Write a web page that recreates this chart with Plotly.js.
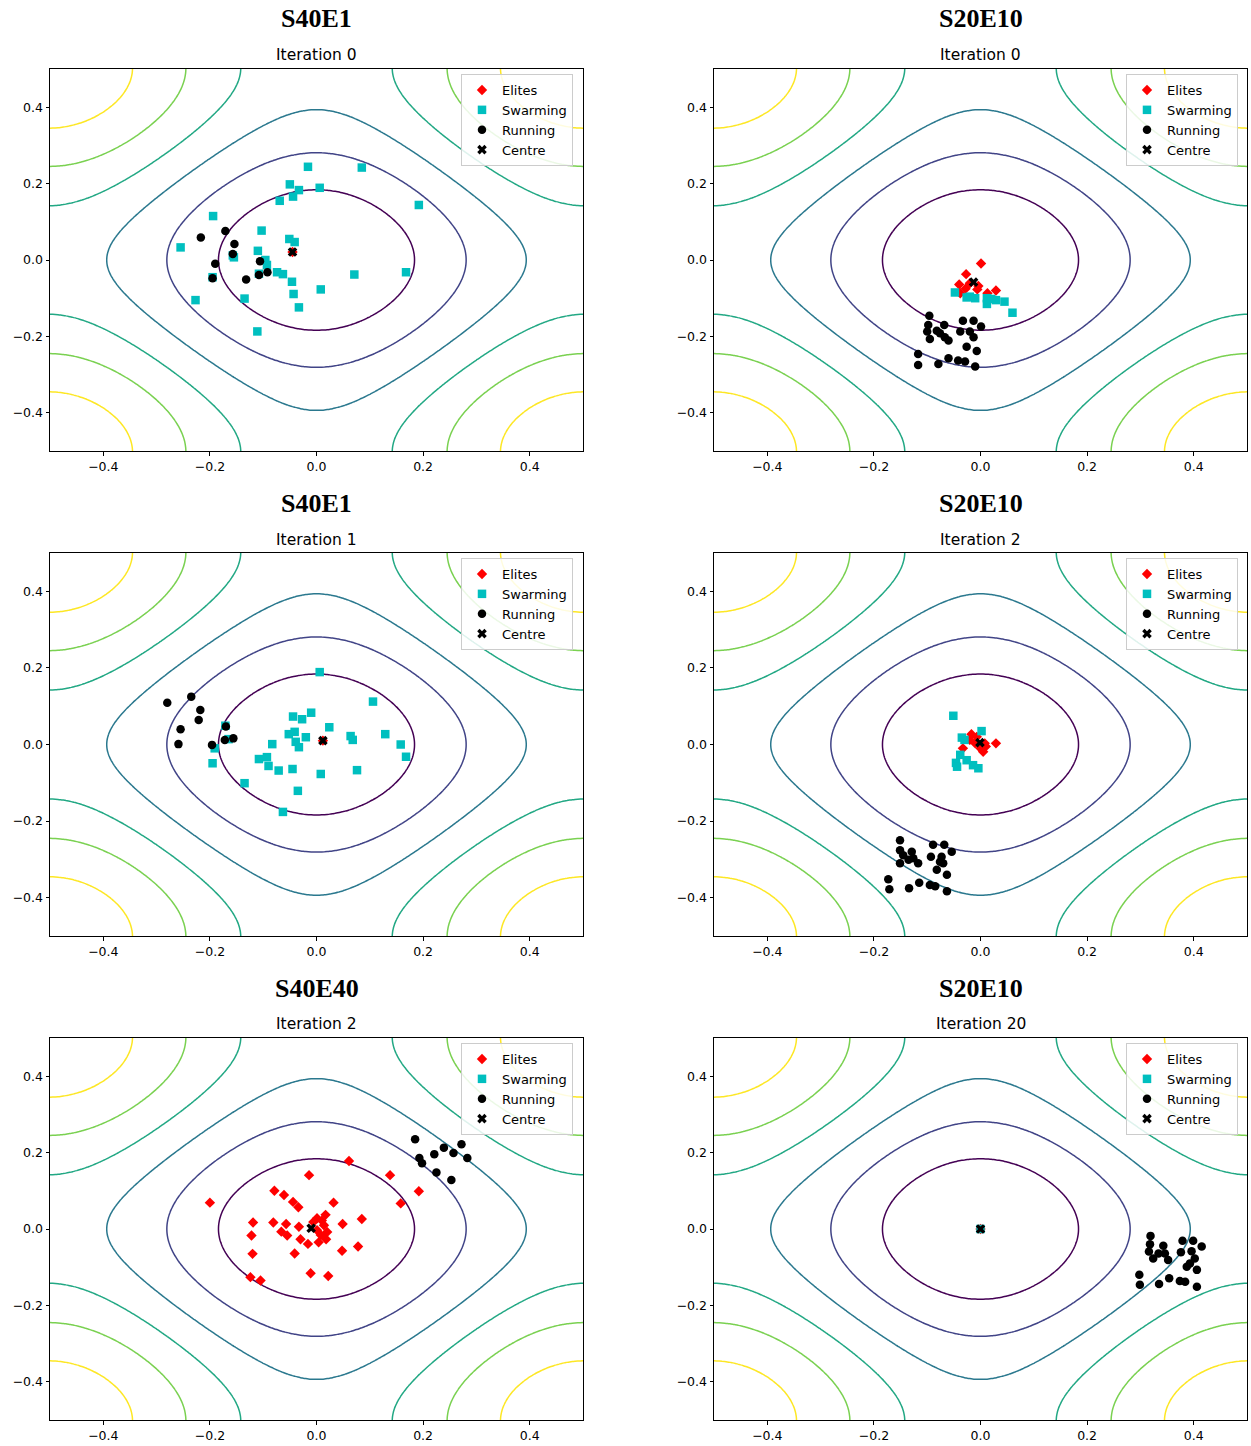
<!DOCTYPE html>
<html><head><meta charset="utf-8">
<script src="https://cdn.plot.ly/plotly-3.0.1.min.js"></script>
<style>html,body{margin:0;padding:0;background:#fff}#chart{width:1251px;height:1446px}</style>
</head><body><div id="chart"></div><script>
// ---- panel texts ----
const panelTitles = ['S40E1', 'S20E10', 'S40E1', 'S20E10', 'S40E40', 'S20E10'];
const panelIterations = ['Iteration 0', 'Iteration 0', 'Iteration 1', 'Iteration 2', 'Iteration 2', 'Iteration 20'];
const seriesNames = ['Elites', 'Swarming', 'Running', 'Centre'];
const tickValues = [-0.4, -0.2, 0.0, 0.2, 0.4];
const tickLabels = ['\u22120.4', '\u22120.2', '0.0', '0.2', '0.4'];
const contourLevels = [6, 12, 18, 24, 30, 36];

// ---- panel 1: S40E1, iteration 0 ----
const p1EliteX = [-0.045];
const p1EliteY = [0.021];
const p1SwarmX = [-0.016, 0.085, -0.050, -0.033, 0.006, -0.044, -0.069, 0.192, -0.194, -0.103, -0.051, -0.041, -0.255, -0.110, -0.155, -0.096, -0.093, -0.074, -0.063, -0.046, 0.071, 0.168, 0.008, -0.043, -0.033, -0.135, -0.227, -0.111, -0.195, -0.157, -0.108];
const p1SwarmY = [0.244, 0.242, 0.198, 0.183, 0.189, 0.166, 0.155, 0.144, 0.115, 0.077, 0.055, 0.047, 0.033, 0.024, 0.007, 0.000, -0.013, -0.032, -0.037, -0.057, -0.038, -0.032, -0.077, -0.089, -0.124, -0.101, -0.105, -0.187, -0.045, 0.012, -0.036];
const p1RunX = [-0.217, -0.171, -0.154, -0.157, -0.190, -0.195, -0.106, -0.092, -0.108, -0.132];
const p1RunY = [0.059, 0.076, 0.042, 0.016, -0.010, -0.048, -0.003, -0.032, -0.039, -0.051];
const p1CentreX = [-0.045];
const p1CentreY = [0.021];

// ---- panel 2: S20E10, iteration 0 ----
const p2EliteX = [0.001, -0.027, -0.040, -0.020, -0.006, -0.038, 0.013, 0.029, -0.028, -0.004];
const p2EliteY = [-0.009, -0.037, -0.064, -0.061, -0.077, -0.087, -0.087, -0.080, -0.075, -0.068];
const p2SwarmX = [-0.048, -0.026, -0.010, 0.012, 0.029, 0.012, 0.045, 0.060, -0.020, 0.020];
const p2SwarmY = [-0.085, -0.098, -0.100, -0.100, -0.105, -0.115, -0.109, -0.138, -0.096, -0.102];
const p2RunX = [-0.096, -0.068, -0.033, -0.013, 0.001, -0.098, -0.100, -0.082, -0.038, -0.020, -0.095, -0.067, -0.060, -0.013, -0.026, -0.007, -0.117, -0.117, -0.079, -0.060, -0.042, -0.029, -0.010, -0.076];
const p2RunY = [-0.146, -0.170, -0.159, -0.159, -0.174, -0.170, -0.187, -0.185, -0.187, -0.187, -0.207, -0.202, -0.211, -0.202, -0.227, -0.238, -0.246, -0.275, -0.272, -0.257, -0.263, -0.266, -0.279, -0.192];
const p2CentreX = [-0.013];
const p2CentreY = [-0.058];

// ---- panel 3: S40E1, iteration 1 ----
const p3EliteX = [0.012];
const p3EliteY = [0.010];
const p3SwarmX = [0.006, 0.106, -0.044, -0.027, -0.010, 0.024, -0.052, -0.041, -0.020, -0.039, -0.033, 0.064, 0.068, 0.129, 0.158, 0.168, -0.083, -0.108, -0.093, -0.090, -0.071, -0.045, 0.008, 0.076, -0.195, -0.135, -0.035, -0.063, -0.171, -0.191, -0.165];
const p3SwarmY = [0.189, 0.112, 0.073, 0.066, 0.083, 0.045, 0.027, 0.033, 0.019, 0.007, -0.007, 0.022, 0.012, 0.027, 0.000, -0.032, 0.001, -0.038, -0.033, -0.056, -0.068, -0.064, -0.077, -0.067, -0.049, -0.101, -0.121, -0.176, 0.049, -0.010, 0.014];
const p3RunX = [-0.280, -0.235, -0.218, -0.221, -0.255, -0.259, -0.196, -0.170, -0.172, -0.156];
const p3RunY = [0.109, 0.125, 0.090, 0.064, 0.040, 0.001, -0.001, 0.047, 0.012, 0.016];
const p3CentreX = [0.012];
const p3CentreY = [0.010];

// ---- panel 4: S20E10, iteration 2 ----
const p4EliteX = [-0.017, -0.007, 0.029, 0.005, -0.033, 0.008, -0.010, 0.000, -0.020, 0.010];
const p4EliteY = [0.027, 0.020, 0.003, -0.019, -0.010, 0.003, 0.003, -0.010, 0.012, -0.005];
const p4SwarmX = [-0.051, 0.002, -0.035, -0.030, -0.038, -0.046, -0.044, -0.026, -0.014, -0.004];
const p4SwarmY = [0.075, 0.035, 0.018, 0.012, -0.027, -0.048, -0.058, -0.041, -0.054, -0.062];
const p4RunX = [-0.151, -0.089, -0.068, -0.054, -0.151, -0.145, -0.129, -0.126, -0.117, -0.151, -0.093, -0.073, -0.070, -0.082, -0.063, -0.173, -0.171, -0.134, -0.115, -0.095, -0.085, -0.063, -0.135, -0.076];
const p4RunY = [-0.250, -0.262, -0.262, -0.280, -0.276, -0.289, -0.280, -0.297, -0.310, -0.310, -0.293, -0.293, -0.310, -0.327, -0.340, -0.352, -0.378, -0.375, -0.361, -0.367, -0.370, -0.383, -0.301, -0.306];
const p4CentreX = [-0.001];
const p4CentreY = [0.005];

// ---- panel 5: S40E40, iteration 2 (no swarming agents) ----
const p5EliteX = [0.061, -0.014, 0.138, 0.192, 0.158, -0.200, -0.079, -0.061, -0.044, -0.034, 0.032, -0.119, -0.081, -0.057, -0.033, -0.066, -0.055, -0.122, 0.001, 0.017, 0.014, 0.001, 0.008, 0.018, 0.004, -0.030, -0.016, 0.049, 0.085, 0.078, 0.048, -0.041, -0.120, -0.011, 0.022, -0.124, -0.105, 0.010, -0.006, 0.020];
const p5EliteY = [0.178, 0.141, 0.141, 0.099, 0.067, 0.069, 0.100, 0.089, 0.071, 0.057, 0.069, 0.017, 0.017, 0.013, 0.006, -0.007, -0.017, -0.017, 0.028, 0.037, 0.010, -0.003, -0.016, -0.027, -0.035, -0.027, -0.039, 0.013, 0.026, -0.046, -0.057, -0.064, -0.065, -0.116, -0.123, -0.126, -0.135, 0.022, 0.018, -0.008];
const p5SwarmX = [null];
const p5SwarmY = [null];
const p5RunX = [0.185, 0.239, 0.272, 0.257, 0.283, 0.221, 0.193, 0.198, 0.225, 0.253];
const p5RunY = [0.235, 0.213, 0.222, 0.199, 0.186, 0.196, 0.186, 0.172, 0.148, 0.128];
const p5CentreX = [-0.010];
const p5CentreY = [0.002];

// ---- panel 6: S20E10, iteration 20 ----
const p6EliteX = [0.000];
const p6EliteY = [0.000];
const p6SwarmX = [0.000];
const p6SwarmY = [0.000];
const p6RunX = [0.319, 0.318, 0.316, 0.324, 0.343, 0.346, 0.352, 0.334, 0.379, 0.399, 0.415, 0.376, 0.396, 0.402, 0.387, 0.406, 0.393, 0.298, 0.299, 0.335, 0.354, 0.374, 0.384, 0.406];
const p6RunY = [-0.018, -0.040, -0.059, -0.077, -0.044, -0.064, -0.081, -0.064, -0.031, -0.031, -0.046, -0.061, -0.058, -0.077, -0.099, -0.107, -0.090, -0.120, -0.146, -0.144, -0.129, -0.136, -0.138, -0.151];
const p6CentreX = [0.000];
const p6CentreY = [0.000];

const panels = [
  [p1EliteX, p1EliteY, p1SwarmX, p1SwarmY, p1RunX, p1RunY, p1CentreX, p1CentreY],
  [p2EliteX, p2EliteY, p2SwarmX, p2SwarmY, p2RunX, p2RunY, p2CentreX, p2CentreY],
  [p3EliteX, p3EliteY, p3SwarmX, p3SwarmY, p3RunX, p3RunY, p3CentreX, p3CentreY],
  [p4EliteX, p4EliteY, p4SwarmX, p4SwarmY, p4RunX, p4RunY, p4CentreX, p4CentreY],
  [p5EliteX, p5EliteY, p5SwarmX, p5SwarmY, p5RunX, p5RunY, p5CentreX, p5CentreY],
  [p6EliteX, p6EliteY, p6SwarmX, p6SwarmY, p6RunX, p6RunY, p6CentreX, p6CentreY]
];

// ---- objective surface (Rastrigin) drawn as background contours ----
function rastrigin(x, y) {
  return 20 + x * x + y * y - 10 * (Math.cos(2 * Math.PI * x) + Math.cos(2 * Math.PI * y));
}
const gridAxis = [];
for (let i = 0; i <= 200; i++) gridAxis.push(-0.5 + i * 0.005);
const gridZ = gridAxis.map(yv => gridAxis.map(xv => rastrigin(xv, yv)));

// ---- layout geometry (pixels) ----
const W = 1251, H = 1446;
const colLeft = [[50, 583], [714, 1247]];
const rowTop = [[69, 451], [553, 936], [1038, 1420]];
const titleY = [19, 503, 988];
const iterY = [55, 540, 1024];
const legendPos = [[461, 74], [1126, 74], [461, 558], [1126, 558], [461, 1043], [1126, 1043]];

const markerStyles = [
  {color: '#ff0000', symbol: 'diamond', size: 8},
  {color: '#00bfbf', symbol: 'square', size: 8.5},
  {color: '#000000', symbol: 'circle', size: 8.5},
  {color: '#000000', symbol: 'x', size: 8.5}
];
const viridis6 = [[0, '#440154'], [0.2, '#414487'], [0.4, '#2a788e'], [0.6, '#22a884'], [0.8, '#7ad151'], [1, '#fde725']];

const traces = [];
const layout = {
  width: W, height: H,
  margin: {l: 0, r: 0, t: 0, b: 0},
  paper_bgcolor: '#ffffff', plot_bgcolor: '#ffffff',
  showlegend: true,
  annotations: [],
  font: {family: 'DejaVu Sans', size: 13, color: '#000'}
};

for (let p = 0; p < 6; p++) {
  const col = p % 2, row = Math.floor(p / 2);
  const sfx = p === 0 ? '' : String(p + 1);
  const xa = 'x' + sfx, ya = 'y' + sfx;
  const lg = 'legend' + sfx;
  const axBase = {
    range: [-0.5, 0.5], tickmode: 'array', tickvals: tickValues, ticktext: tickLabels,
    ticks: 'outside', ticklen: 3.5, tickwidth: 1, tickcolor: '#000',
    showline: true, linecolor: '#000', linewidth: 1, mirror: true,
    showgrid: false, zeroline: false, fixedrange: true,
    tickfont: {family: 'DejaVu Sans', size: 12.5, color: '#000'}
  };
  layout['xaxis' + sfx] = Object.assign({}, axBase, {
    domain: [colLeft[col][0] / W, colLeft[col][1] / W], anchor: ya
  });
  layout['yaxis' + sfx] = Object.assign({}, axBase, {
    domain: [1 - rowTop[row][1] / H, 1 - rowTop[row][0] / H], anchor: xa
  });
  traces.push({
    type: 'contour', x: gridAxis, y: gridAxis, z: gridZ,
    xaxis: xa, yaxis: ya, showlegend: false, showscale: false, hoverinfo: 'skip',
    autocontour: false,
    contours: {start: contourLevels[0], end: contourLevels[contourLevels.length - 1], size: contourLevels[1] - contourLevels[0], coloring: 'lines'},
    colorscale: viridis6, zauto: false, zmin: contourLevels[0], zmax: contourLevels[contourLevels.length - 1],
    line: {width: 1.5, smoothing: 1}
  });
  const d = panels[p];
  for (let s = 0; s < 4; s++) {
    const m = markerStyles[s];
    traces.push({
      type: 'scatter', mode: 'markers', name: seriesNames[s],
      x: d[2 * s], y: d[2 * s + 1], xaxis: xa, yaxis: ya,
      legend: lg, legendrank: s + 1,
      marker: {color: m.color, symbol: m.symbol, size: m.size, line: {width: 0}},
      cliponaxis: true, hoverinfo: 'x+y'
    });
  }
  layout[lg] = {
    x: legendPos[p][0] / W, y: 1 - legendPos[p][1] / H, xanchor: 'left', yanchor: 'top',
    xref: 'paper', yref: 'paper',
    bgcolor: 'rgba(255,255,255,0.85)', bordercolor: '#cccccc', borderwidth: 1,
    font: {family: 'DejaVu Sans', size: 13, color: '#000'},
    traceorder: 'normal', itemwidth: 30
  };
  const cx = (colLeft[col][0] + colLeft[col][1]) / 2 / W;
  layout.annotations.push({
    text: '<b>' + panelTitles[p] + '</b>', x: cx, y: 1 - titleY[row] / H,
    xref: 'paper', yref: 'paper', xanchor: 'center', yanchor: 'middle', showarrow: false,
    font: {family: 'Liberation Serif', size: 26, color: '#000'}
  });
  layout.annotations.push({
    text: panelIterations[p], x: cx, y: 1 - iterY[row] / H,
    xref: 'paper', yref: 'paper', xanchor: 'center', yanchor: 'middle', showarrow: false,
    font: {family: 'DejaVu Sans', size: 15.5, color: '#000'}
  });
}

Plotly.newPlot('chart', traces, layout, {displayModeBar: false, staticPlot: true});
</script></body></html>
